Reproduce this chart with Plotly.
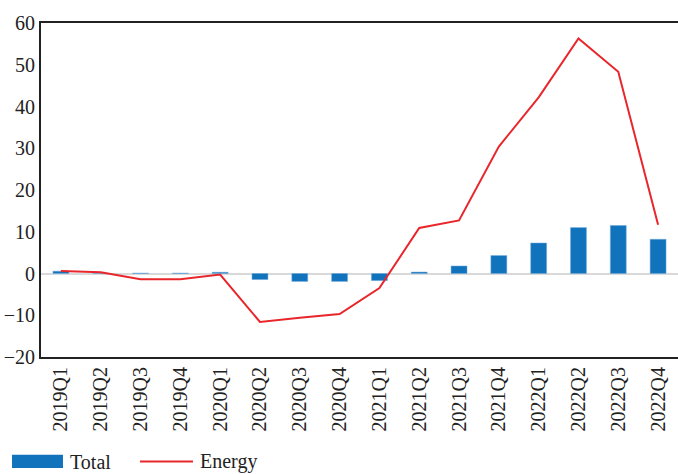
import plotly.graph_objects as go

quarters = ["2019Q1", "2019Q2", "2019Q3", "2019Q4", "2020Q1", "2020Q2", "2020Q3", "2020Q4",
            "2021Q1", "2021Q2", "2021Q3", "2021Q4", "2022Q1", "2022Q2", "2022Q3", "2022Q4"]
total = [0.55, 0.05, 0.1, 0.1, 0.3, -1.45, -1.9, -1.9, -1.7, 0.35, 1.8, 4.3, 7.3, 11.0, 11.5, 8.2]
energy = [0.6, 0.3, -1.4, -1.4, -0.25, -11.6, -10.6, -9.7, -3.5, 10.9, 12.7, 30.4, 42.2, 56.3, 48.3, 11.7]

BAR_COLOR = "#1273BD"
LINE_COLOR = "#E8262B"
FONT_FAMILY = "Liberation Serif, DejaVu Serif, serif"

fig = go.Figure()
fig.add_trace(go.Bar(x=quarters, y=total, name="Total", marker=dict(color=BAR_COLOR,
                     line=dict(color="#6FA8DC", width=0.5)), width=0.4))
fig.add_trace(go.Scatter(x=quarters, y=energy, name="Energy", mode="lines",
                         line=dict(color=LINE_COLOR, width=2)))

font = dict(family=FONT_FAMILY, size=20, color="#222222")
fig.update_layout(
    width=678, height=474,
    margin=dict(l=41, r=0, t=23, b=117),
    plot_bgcolor="white", paper_bgcolor="white",
    font=font,
    showlegend=False,
    bargap=0.6,
)
fig.update_xaxes(tickangle=-90, showline=True, linecolor="#222222", linewidth=2, mirror=True,
                 ticks="", showgrid=False, tickfont=font, automargin=False)
fig.update_yaxes(range=[-20, 60], dtick=10, showline=True, linecolor="#222222", linewidth=2,
                 ticks="", showgrid=False, zeroline=True, zerolinecolor="#D9D9D9", zerolinewidth=2,
                 tickfont=font, automargin=False)

# Manual legend (swatches + labels) below the plot
fig.add_shape(type="rect", xref="paper", yref="paper", x0=-0.0455, x1=0.0345, y0=-0.332, y1=-0.293,
              fillcolor=BAR_COLOR, line=dict(width=0))
fig.add_shape(type="line", xref="paper", yref="paper", x0=0.1554, x1=0.2386, y0=-0.313, y1=-0.313,
              line=dict(color=LINE_COLOR, width=2))
fig.add_annotation(text="Total", xref="paper", yref="paper", x=0.0424, y=-0.313, xanchor="left",
                   yanchor="middle", showarrow=False, font=font)
fig.add_annotation(text="Energy", xref="paper", yref="paper", x=0.2465, y=-0.313, xanchor="left",
                   yanchor="middle", showarrow=False, font=font)

fig.write_html("out.html",
               config={"displayModeBar": False},
               post_script="document.body.style.margin='0';document.body.style.padding='0';"
                           "document.body.style.overflow='hidden';")
